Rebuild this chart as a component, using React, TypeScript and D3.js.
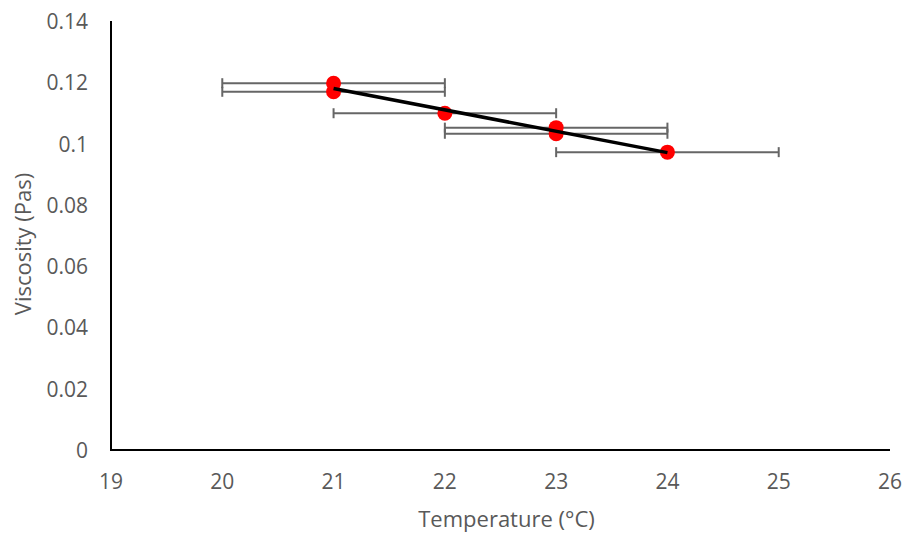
import React from "react";
import * as d3 from "d3";

const temperatures = [21, 21, 22, 23, 23, 24];
const viscosities = [0.1197, 0.1169, 0.1099, 0.1052, 0.1032, 0.0972];
const tempErrors = [1, 1, 1, 1, 1, 1];
const xTicks = [19, 20, 21, 22, 23, 24, 25, 26];
const yTicks = [0, 0.02, 0.04, 0.06, 0.08, 0.1, 0.12, 0.14];

const W = 908;
const H = 535;
const FONT = "'Open Sans', sans-serif";
const GRAY = "#595959";

export default function App() {
  const x = d3.scaleLinear().domain([19, 26]).range([111, 890]);
  const y = d3.scaleLinear().domain([0, 0.14]).range([450, 21]);

  // least-squares linear trendline
  const mx = d3.mean(temperatures) as number;
  const my = d3.mean(viscosities) as number;
  let sxy = 0, sxx = 0;
  temperatures.forEach((t, i) => {
    sxy += (t - mx) * (viscosities[i] - my);
    sxx += (t - mx) * (t - mx);
  });
  const slope = sxy / sxx;
  const icpt = my - slope * mx;
  const [xmin, xmax] = d3.extent(temperatures) as [number, number];
  const trend: [number, number][] = [
    [xmin, icpt + slope * xmin],
    [xmax, icpt + slope * xmax],
  ];
  const line = d3
    .line<[number, number]>()
    .x((d) => x(d[0]))
    .y((d) => y(d[1]));

  const fmt = (v: number) => (v === 0 ? "0" : String(+v.toFixed(2)));
  const cap = 5;

  return (
    <svg
      width={W}
      height={H}
      style={{ position: "fixed", left: 0, top: 0, background: "#fff" }}
      fontFamily={FONT}
    >
      <rect width={W} height={H} fill="#fff" />
      {/* axes */}
      <line x1={x(19)} x2={x(19)} y1={y(0.14)} y2={y(0)} stroke="#000" strokeWidth={2} />
      <line x1={x(19) - 1} x2={x(26)} y1={y(0)} y2={y(0)} stroke="#000" strokeWidth={2} />
      {/* y tick labels */}
      {yTicks.map((t) => (
        <text
          key={t}
          x={88}
          y={y(t)}
          textAnchor="end"
          dominantBaseline="central"
          fontSize={21}
          fill={GRAY}
        >
          {fmt(t)}
        </text>
      ))}
      {/* x tick labels */}
      {xTicks.map((t) => (
        <text
          key={t}
          x={x(t)}
          y={481}
          textAnchor="middle"
          dominantBaseline="central"
          fontSize={21}
          fill={GRAY}
        >
          {t}
        </text>
      ))}
      {/* axis titles */}
      <text x={(x(19) + x(26)) / 2 + 6} y={527} textAnchor="middle" fontSize={22} fill={GRAY}>
        Temperature (°C)
      </text>
      <text
        transform={`translate(22, ${244}) rotate(-90)`}
        textAnchor="middle"
        dominantBaseline="central"
        fontSize={22}
        fill={GRAY}
      >
        Viscosity (Pas)
      </text>
      {/* error bars */}
      {temperatures.map((t, i) => {
        const yy = y(viscosities[i]);
        const x0 = x(t - tempErrors[i]);
        const x1 = x(t + tempErrors[i]);
        return (
          <g key={"e" + i} stroke="#666666" strokeWidth={2}>
            <line x1={x0} x2={x1} y1={yy} y2={yy} />
            <line x1={x0} x2={x0} y1={yy - cap} y2={yy + cap} />
            <line x1={x1} x2={x1} y1={yy - cap} y2={yy + cap} />
          </g>
        );
      })}
      {/* markers */}
      {temperatures.map((t, i) => (
        <circle key={"m" + i} cx={x(t)} cy={y(viscosities[i])} r={7.5} fill="#ff0000" />
      ))}
      {/* trendline */}
      <path d={line(trend) as string} fill="none" stroke="#000" strokeWidth={3.5} />
    </svg>
  );
}
